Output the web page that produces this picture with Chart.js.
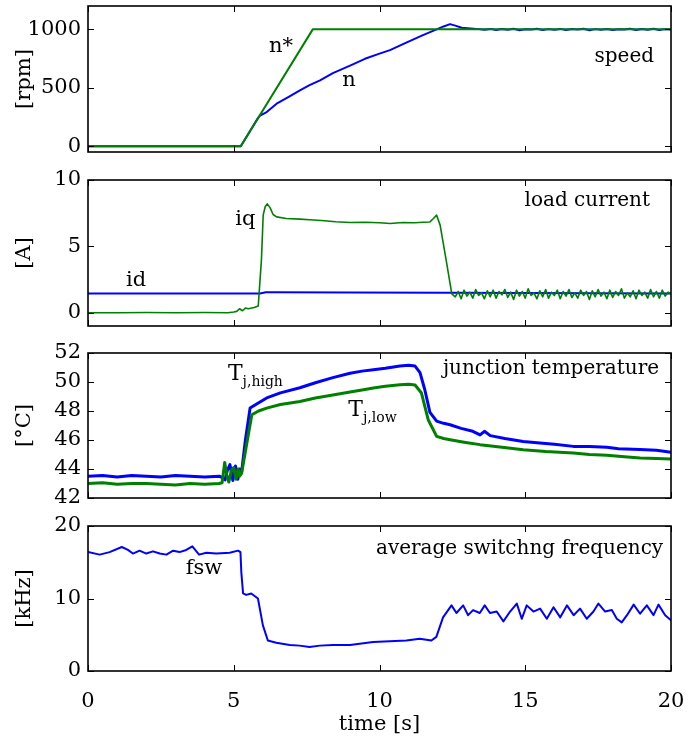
<!DOCTYPE html>
<html>
<head>
<meta charset="utf-8">
<script src="https://cdn.jsdelivr.net/npm/chart.js@4/dist/chart.umd.min.js"></script>
<style>
  body { margin: 0; background: #fff; width: 698px; height: 742px; position: relative; overflow: hidden; }
  canvas { position: absolute; left: 0; }
</style>
</head>
<body>
<canvas id="speedChart" width="698" height="174" style="top:-8px"></canvas>
<canvas id="currentChart" width="698" height="174" style="top:166px"></canvas>
<canvas id="tempChart" width="698" height="173" style="top:339px"></canvas>
<canvas id="fswChart" width="698" height="230" style="top:512px"></canvas>
<script>
// Données
const xTicks = [0, 5, 10, 15, 20];

// vitesse
const speedRefTime = [0, 5.24, 7.71, 20];
const speedRef = [0, 0, 1000, 1000];
const speedTime = [0, 5.24, 5.55, 5.83, 5.9, 6.13, 6.47, 6.9, 7.27, 7.6, 7.96, 8.4, 8.99, 9.5, 10.0, 10.36, 10.9, 11.49, 11.96, 12.2, 12.42, 12.6, 12.82, 13.02, 13.22,
  13.4, 13.6, 13.8, 14.0, 14.2, 14.4, 14.6, 14.8, 15.0, 15.2, 15.4, 15.6, 15.8, 16.0, 16.2, 16.4, 16.6, 16.8, 17.0, 17.2, 17.4, 17.6, 17.8, 18.0, 18.2, 18.4, 18.6, 18.8, 19.0, 19.2, 19.4, 19.6, 19.8, 20.0];
const speed = [0, 0, 125, 240, 262, 292, 364, 425, 478, 522, 564, 625, 690, 748, 792, 822, 885, 951, 1000, 1025, 1045, 1032, 1014, 1010, 1006,
  1002, 996, 1004, 994, 1003, 997, 1005, 993, 1001, 998, 1006, 995, 1002, 997, 1004, 994, 1003, 999, 1005, 993, 1002, 996, 1004, 995, 1001, 998, 1006, 994, 1003, 997, 1005, 995, 1002, 998];
const speedTicks = [0, 500, 1000];

// courants
const idTime = [0, 5.9, 6.1, 6.35, 9.0, 12.4, 20];
const id = [1.45, 1.45, 1.55, 1.55, 1.52, 1.5, 1.45];
const iqTime = [0, 1, 2, 3, 4, 4.8, 5.0, 5.1, 5.2, 5.3, 5.4, 5.5, 5.7, 5.84, 5.95, 6.01, 6.08, 6.15, 6.25, 6.35, 6.47, 6.8, 7.27, 7.6, 8.0, 8.5, 8.99, 9.5, 10.0, 10.36, 10.8, 11.2, 11.5, 11.73, 11.85, 11.96, 12.08, 12.3, 12.48,
  12.6, 12.7, 12.8, 12.9, 13.0, 13.1, 13.2, 13.3, 13.4, 13.5,
  13.6, 13.7, 13.8, 13.9, 14.0, 14.1, 14.2, 14.3, 14.4, 14.5,
  14.6, 14.7, 14.8, 14.9, 15.0, 15.1, 15.2, 15.3, 15.4, 15.5,
  15.6, 15.7, 15.8, 15.9, 16.0, 16.1, 16.2, 16.3, 16.4, 16.5,
  16.6, 16.7, 16.8, 16.9, 17.0, 17.1, 17.2, 17.3, 17.4, 17.5,
  17.6, 17.7, 17.8, 17.9, 18.0, 18.1, 18.2, 18.3, 18.4, 18.5,
  18.6, 18.7, 18.8, 18.9, 19.0, 19.1, 19.2, 19.3, 19.4, 19.5,
  19.6, 19.7, 19.8, 19.9, 20.0];
const iq = [0, 0, 0.02, 0, 0.02, 0, 0.05, 0.1, 0.3, 0.15, 0.35, 0.3, 0.4, 0.5, 4.0, 7.35, 8.0, 8.2, 7.9, 7.4, 7.22, 7.1, 7.05, 7.0, 6.95, 6.85, 6.8, 6.82, 6.78, 6.72, 6.8, 6.78, 6.82, 6.84, 7.1, 7.35, 6.6, 3.8, 1.42,
  1.2, 1.6, 1.05, 1.7, 1.25, 1.55, 1.1, 1.75, 1.3, 1.5,
  1.05, 1.65, 1.2, 1.7, 1.1, 1.6, 1.35, 1.75, 1.15, 1.55,
  1.0, 1.7, 1.25, 1.6, 1.1, 1.8, 1.3, 1.5, 1.05, 1.65,
  1.2, 1.75, 1.1, 1.55, 1.3, 1.7, 1.05, 1.6, 1.25, 1.75,
  1.15, 1.5, 1.1, 1.7, 1.3, 1.6, 1.0, 1.65, 1.2, 1.75,
  1.25, 1.55, 1.05, 1.7, 1.15, 1.6, 1.3, 1.8, 1.1, 1.5,
  1.2, 1.65, 1.05, 1.7, 1.3, 1.55, 1.1, 1.75, 1.2, 1.6,
  1.1, 1.7, 1.25, 1.55, 1.4];
const currentTicks = [0, 5, 10];

// températures de jonction
const tHighTime = [0, 0.5, 1, 1.5, 2, 2.5, 3, 3.5, 4, 4.5, 4.62, 4.7, 4.78, 4.87, 4.97, 5.06, 5.14, 5.2, 5.27, 5.4, 5.56, 5.8, 6.13, 6.6, 7.27, 7.8, 8.4, 8.99, 9.4, 9.79, 10.2, 10.7, 11.0, 11.22, 11.39, 11.55, 11.73, 11.96, 12.2, 12.42, 12.8, 13.2, 13.45, 13.6, 13.8, 14.3, 14.93, 15.5, 16.0, 16.65, 17.2, 17.8, 18.2, 18.94, 19.5, 20];
const tHigh = [43.5, 43.55, 43.45, 43.55, 43.5, 43.45, 43.55, 43.5, 43.45, 43.5, 43.4, 43.25, 43.9, 44.3, 43.2, 44.2, 43.3, 44.0, 43.8, 46.0, 48.2, 48.5, 48.9, 49.25, 49.6, 49.95, 50.3, 50.6, 50.75, 50.85, 50.95, 51.1, 51.15, 51.1, 50.65, 49.5, 47.9, 47.3, 47.15, 47.05, 46.8, 46.6, 46.35, 46.6, 46.3, 46.1, 45.9, 45.8, 45.7, 45.56, 45.55, 45.5, 45.4, 45.35, 45.3, 45.15];
const tLowTime = [0, 0.5, 1, 1.5, 2, 2.5, 3, 3.5, 4, 4.5, 4.6, 4.69, 4.76, 4.83, 4.92, 5.0, 5.08, 5.15, 5.2, 5.27, 5.45, 5.62, 5.85, 6.13, 6.6, 7.27, 7.8, 8.4, 8.99, 9.4, 9.79, 10.2, 10.7, 11.0, 11.22, 11.44, 11.67, 11.96, 12.2, 12.42, 12.9, 13.45, 14.2, 14.93, 15.7, 16.65, 17.2, 17.8, 18.4, 18.94, 19.5, 20];
const tLow = [43.0, 43.05, 42.95, 43.0, 43.0, 42.95, 42.9, 43.0, 42.95, 43.0, 43.05, 44.45, 43.6, 43.1, 43.9, 44.1, 43.3, 44.0, 43.5, 43.7, 45.8, 47.74, 48.0, 48.2, 48.45, 48.66, 48.9, 49.1, 49.31, 49.45, 49.59, 49.7, 49.81, 49.85, 49.79, 49.24, 47.4, 46.25, 46.1, 46.02, 45.85, 45.68, 45.5, 45.33, 45.2, 45.1, 45.0, 44.94, 44.85, 44.76, 44.72, 44.69];
const tempTicks = [42, 44, 46, 48, 50, 52];

// fréquence de commutation moyenne
const fswTime = [0, 0.4, 0.74, 1.16, 1.37, 1.54, 1.77, 2.0, 2.23, 2.46, 2.69, 2.92, 3.14, 3.37, 3.58, 3.81, 4.06, 4.4, 4.86, 5.15, 5.23, 5.26, 5.32, 5.43, 5.6, 5.83, 6.0, 6.17, 6.46, 6.92, 7.26, 7.6, 7.95, 8.4, 8.99, 9.78, 10.35, 10.92, 11.38, 11.78, 11.95, 12.18, 12.47, 12.64, 12.87, 13.04, 13.21, 13.44, 13.61, 13.79, 14.02, 14.25, 14.48, 14.71, 14.88, 15.05, 15.28, 15.51, 15.74, 15.97, 16.2, 16.43, 16.66, 16.88, 17.11, 17.34, 17.51, 17.74, 17.97, 18.14, 18.31, 18.49, 18.72, 18.94, 19.17, 19.4, 19.57, 19.8, 20.0];
const fsw = [16.4, 16.05, 16.4, 17.1, 16.7, 16.2, 16.6, 16.2, 16.5, 16.2, 16.05, 16.6, 16.4, 16.7, 17.2, 16.05, 16.3, 16.2, 16.3, 16.6, 16.4, 13.6, 10.7, 10.5, 10.7, 10.0, 6.3, 4.2, 3.9, 3.6, 3.5, 3.3, 3.5, 3.6, 3.6, 4.0, 4.1, 4.2, 4.45, 4.2, 4.7, 7.4, 9.05, 8.0, 9.05, 7.7, 8.4, 8.0, 9.05, 8.0, 8.2, 6.85, 8.2, 9.3, 7.2, 9.05, 8.2, 8.6, 7.2, 8.8, 7.4, 9.05, 7.7, 8.6, 7.2, 8.2, 9.3, 8.2, 8.4, 7.2, 6.7, 7.7, 9.15, 7.9, 9.05, 7.7, 9.15, 7.7, 7.0];
const fswTicks = [0, 10, 20];

const BLUE = '#0000ff';
const GREEN = '#008000';
const tickFont = { family: 'DejaVu Serif', size: 21 };
const noteFont = '20px "DejaVu Serif"';
const cmFont = '21px "DejaVu Serif"';

function points(t, v) {
    return t.map((x, i) => ({ x: x, y: v[i] }));
}

// cadre + graduations intérieures
const framePlugin = {
    id: 'frame',
    afterDraw(chart) {
        const { ctx, chartArea: a, scales: { x, y } } = chart;
        ctx.save();
        ctx.strokeStyle = '#000';
        ctx.lineWidth = 1;
        ctx.beginPath();
        xTicks.forEach(v => {
            const px = Math.round(x.getPixelForValue(v)) + 0.5;
            ctx.moveTo(px, a.top); ctx.lineTo(px, a.top + 6);
            ctx.moveTo(px, a.bottom); ctx.lineTo(px, a.bottom - 6);
        });
        y.ticks.forEach(t => {
            const py = Math.round(y.getPixelForValue(t.value)) + 0.5;
            ctx.moveTo(a.left, py); ctx.lineTo(a.left + 6, py);
            ctx.moveTo(a.right, py); ctx.lineTo(a.right - 6, py);
        });
        ctx.stroke();
        ctx.lineWidth = 1.6;
        ctx.strokeRect(a.left, a.top, a.right - a.left, a.bottom - a.top);
        ctx.restore();
    }
};

function notesPlugin(notes) {
    return {
        id: 'notes',
        afterDatasetsDraw(chart) {
            const { ctx, scales: { x, y } } = chart;
            ctx.save();
            ctx.fillStyle = '#000';
            notes.forEach(n => {
                const px = x.getPixelForValue(n.x);
                const py = y.getPixelForValue(n.y);
                ctx.font = n.font;
                ctx.textAlign = n.align || 'center';
                ctx.textBaseline = n.sub ? 'alphabetic' : 'middle';
                ctx.fillText(n.text, px, py);
                if (n.sub) {
                    const w = ctx.measureText(n.text).width;
                    ctx.font = '14px "DejaVu Serif"';
                    ctx.textAlign = 'left';
                    ctx.fillText(n.sub, px + w, py + 6);
                }
            });
            ctx.restore();
        }
    };
}

function panel(id, datasets, yMin, yMax, yTicks, yTitle, notes, showX) {
    return new Chart(document.getElementById(id), {
        type: 'line',
        data: { datasets: datasets },
        options: {
            responsive: false,
            animation: false,
            devicePixelRatio: 1,
            layout: { padding: { left: 0, right: 27, top: 14, bottom: showX ? 0 : 14 } },
            plugins: { legend: { display: false }, tooltip: { enabled: false } },
            elements: {
                point: { radius: 0 },
                line: { tension: 0, borderJoinStyle: 'round', borderCapStyle: 'round' }
            },
            scales: {
                x: {
                    type: 'linear', min: 0, max: 20, display: showX,
                    afterBuildTicks: s => { s.ticks = xTicks.map(v => ({ value: v })); },
                    grid: { display: false, drawTicks: false },
                    border: { display: false },
                    ticks: { font: tickFont, color: '#000', padding: 18, maxRotation: 0, callback: v => v },
                    title: { display: showX, text: 'time [s]', font: tickFont, color: '#000', padding: { top: 0, bottom: 5 } },
                    afterFit: s => { if (showX) s.height = 71; s.paddingLeft = 0; s.paddingRight = 0; }
                },
                y: {
                    type: 'linear', min: yMin, max: yMax,
                    afterBuildTicks: s => { s.ticks = yTicks.map(v => ({ value: v })); },
                    grid: { display: false, drawTicks: false },
                    border: { display: false },
                    ticks: { font: tickFont, color: '#000', padding: 7, callback: v => v },
                    title: { display: true, text: yTitle, font: tickFont, color: '#000', padding: { top: 12, bottom: 0 } },
                    afterFit: s => { s.width = 88; s.paddingTop = 0; s.paddingBottom = 0; }
                }
            }
        },
        plugins: [framePlugin, notesPlugin(notes)]
    });
}

// le vert est dessiné par-dessus le bleu (dataset 0 en premier plan)
panel('speedChart', [
    { data: points(speedRefTime, speedRef), borderColor: GREEN, borderWidth: 2 },
    { data: points(speedTime, speed), borderColor: BLUE, borderWidth: 2 }
], -50, 1200, speedTicks, '[rpm]', [
    { text: 'n*', x: 6.62, y: 856, font: cmFont },
    { text: 'n', x: 8.95, y: 564, font: cmFont },
    { text: 'speed', x: 19.42, y: 762, font: noteFont, align: 'right' }
], false);

panel('currentChart', [
    { data: points(iqTime, iq), borderColor: GREEN, borderWidth: 1.6 },
    { data: points(idTime, id), borderColor: BLUE, borderWidth: 2 }
], -1, 10, currentTicks, '[A]', [
    { text: 'iq', x: 5.4, y: 7.0, font: cmFont },
    { text: 'id', x: 1.65, y: 2.42, font: cmFont },
    { text: 'load current', x: 19.28, y: 8.4, font: noteFont, align: 'right' }
], false);

panel('tempChart', [
    { data: points(tLowTime, tLow), borderColor: GREEN, borderWidth: 3 },
    { data: points(tHighTime, tHigh), borderColor: BLUE, borderWidth: 3 }
], 42, 52, tempTicks, '[°C]', [
    { text: 'T', sub: 'j,high', x: 4.8, y: 50.16, font: '22px "DejaVu Serif"', align: 'left' },
    { text: 'T', sub: 'j,low', x: 8.93, y: 47.68, font: '22px "DejaVu Serif"', align: 'left' },
    { text: 'junction temperature', x: 19.59, y: 50.9, font: noteFont, align: 'right' }
], false);

panel('fswChart', [
    { data: points(fswTime, fsw), borderColor: BLUE, borderWidth: 2 }
], 0, 20, fswTicks, '[kHz]', [
    { text: 'fsw', x: 3.98, y: 14.2, font: cmFont },
    { text: 'average switchng frequency', x: 19.73, y: 16.8, font: noteFont, align: 'right' }
], true);
</script>
</body>
</html>
